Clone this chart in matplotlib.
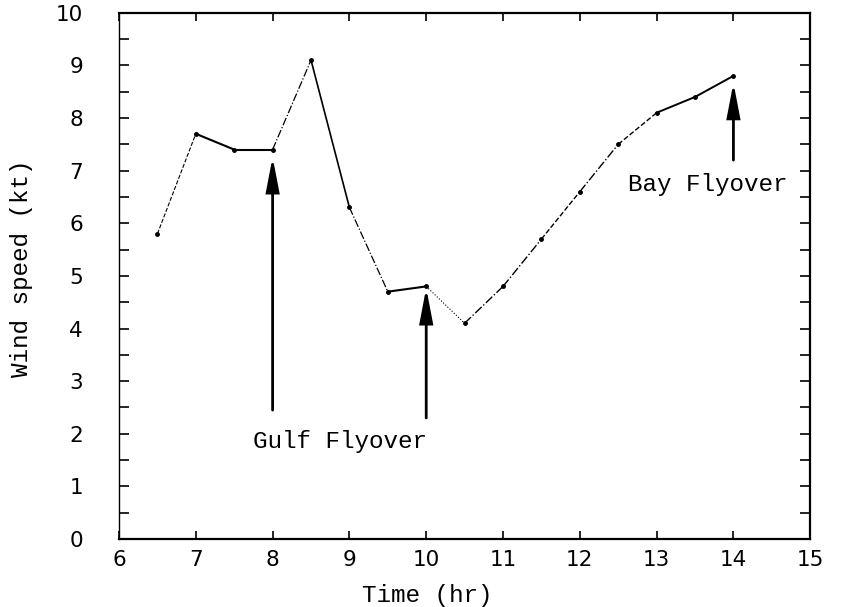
import matplotlib.pyplot as plt
import numpy as np

# wind speed record over the day
time_hr = [6.5, 7.0, 7.5, 8.0, 8.5, 9.0, 9.5, 10.0, 10.5, 11.0, 11.5, 12.0, 12.5, 13.0, 13.5, 14.0]
wind_kt = [5.8, 7.7, 7.4, 7.4, 9.1, 6.3, 4.7, 4.8, 4.1, 4.8, 5.7, 6.6, 7.5, 8.1, 8.4, 8.8]

# line style of each segment between consecutive points
seg_styles = ['--', '-', '-', '-.', '-', '-.', '-', ':', '-.', '-.', '--', '-.', '--', '-', '-']
seg_widths = [0.8, 1.5, 1.5, 0.9, 1.2, 0.9, 1.5, 0.8, 1.0, 1.0, 1.0, 1.0, 1.0, 1.4, 1.4]

# flyover arrows: x, tail y, head y
flyovers = [(8.0, 2.45, 7.26), (10.0, 2.3, 4.77), (14.0, 7.2, 8.67)]

mono = 'Liberation Mono'

fig = plt.figure(figsize=(8.44, 6.07), dpi=100)
ax = fig.add_axes([0.141, 0.112, 0.819, 0.867])

for i in range(len(time_hr) - 1):
    ax.plot(time_hr[i:i + 2], wind_kt[i:i + 2], color='black',
            linestyle=seg_styles[i], linewidth=seg_widths[i])
ax.plot(time_hr, wind_kt, linestyle='none', marker='o', markersize=2.5, color='black')

for x, y0, y1 in flyovers:
    ax.annotate('', xy=(x, y1), xytext=(x, y0),
                arrowprops=dict(arrowstyle='-|>,head_width=0.22,head_length=1.15',
                                mutation_scale=18, lw=2.0, color='black',
                                joinstyle='miter', shrinkA=0, shrinkB=0))

ax.text(8.88, 1.85, 'Gulf Flyover', family=mono, fontsize=17.5, ha='center', va='center')
ax.text(13.66, 6.73, 'Bay Flyover', family=mono, fontsize=17.5, ha='center', va='center')

ax.set_xlim(6, 15)
ax.set_ylim(0, 10)
ax.set_xticks(np.arange(6, 16, 1))
ax.set_yticks(np.arange(0, 11, 1))
ax.set_yticks(np.arange(0, 10.5, 0.5), minor=True)

ax.tick_params(axis='both', which='both', direction='in', top=True, right=True,
               width=1.2, labelsize=15.5)
ax.tick_params(axis='x', which='major', length=6, pad=8)
ax.tick_params(axis='y', which='major', length=7, pad=26)
ax.tick_params(axis='y', which='minor', length=7)
for side in ['left', 'right', 'top', 'bottom']:
    ax.spines[side].set_linewidth(1.6)
ax.spines['left'].set_linewidth(1.0)

ax.set_xlabel('Time (hr)', family=mono, fontsize=17.5)
ax.set_ylabel('Wind speed (kt)', family=mono, fontsize=17.5)
ax.xaxis.set_label_coords(0.446, -0.085)
ax.yaxis.set_label_coords(-0.125, 0.515)

fig.savefig('out.png', dpi=100)
